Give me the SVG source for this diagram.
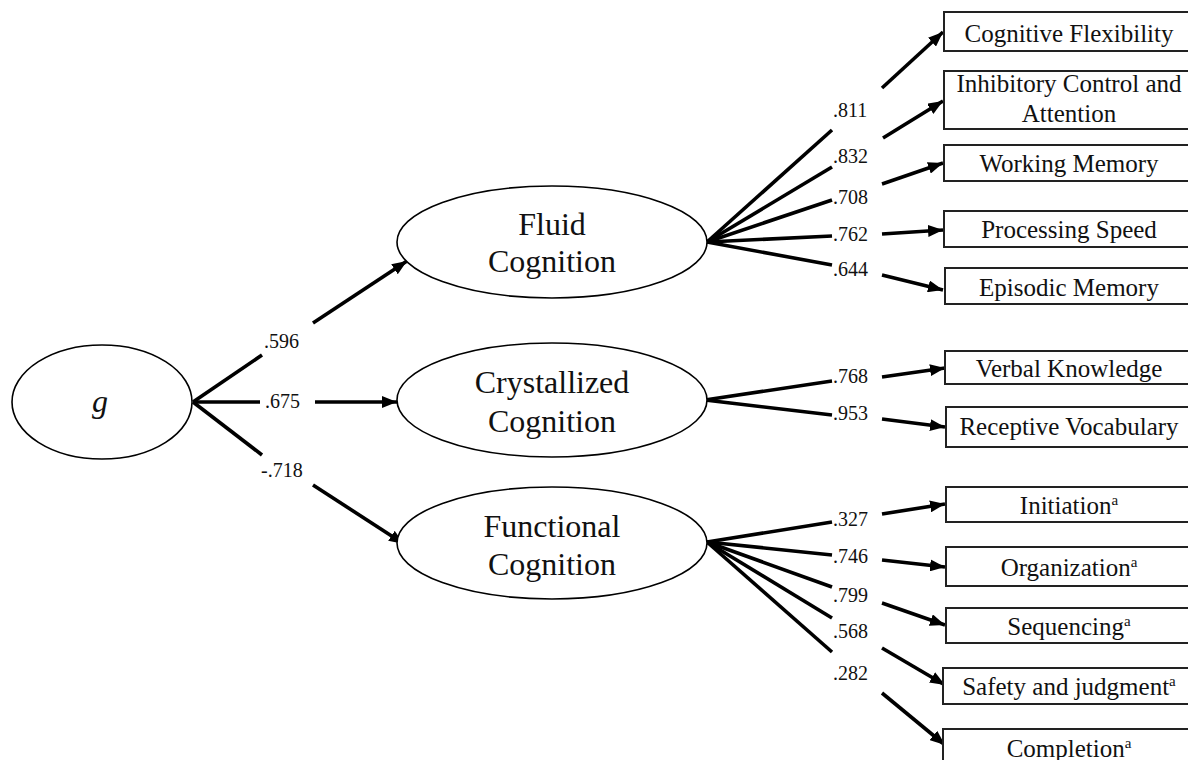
<svg xmlns="http://www.w3.org/2000/svg" width="1188" height="760" viewBox="0 0 1188 760">
<defs>
<marker id="arr" markerUnits="userSpaceOnUse" markerWidth="16" markerHeight="12" refX="15" refY="6" orient="auto">
<path d="M0,0 L15,6 L0,12 z" fill="#000"/>
</marker>
<style>
.ell{fill:#fff;stroke:#000;stroke-width:1.6}
.box{fill:#fff;stroke:#222;stroke-width:2}
.t{font-family:"Liberation Serif","Times New Roman",serif;fill:#111;text-anchor:middle}
.big{font-size:32px}
.bt{font-size:25px}
.lab{font-family:"Liberation Serif","Times New Roman",serif;font-size:20px;fill:#111}
.ln{stroke:#000;stroke-width:3.6;fill:none;stroke-linecap:butt}
.ar{stroke:#000;stroke-width:3.6;fill:none;marker-end:url(#arr)}
.sup{font-size:15px}
</style>
</defs>
<rect width="1188" height="760" fill="#fff"/>

<g id="connectors">
<!-- g to factors -->
<line class="ln" x1="193" y1="402" x2="262" y2="355"/>
<line class="ar" x1="313" y1="323" x2="407" y2="261"/>
<line class="ln" x1="193" y1="402" x2="260" y2="402"/>
<line class="ar" x1="315" y1="402" x2="397" y2="402"/>
<line class="ln" x1="193" y1="402" x2="262" y2="455"/>
<line class="ar" x1="313" y1="485" x2="404" y2="544"/>
<!-- Fluid -->
<line class="ln" x1="707" y1="242" x2="832" y2="130"/>
<line class="ar" x1="882" y1="88" x2="943" y2="32"/>
<line class="ln" x1="707" y1="242" x2="832" y2="167"/>
<line class="ar" x1="883" y1="138" x2="943" y2="101"/>
<line class="ln" x1="707" y1="242" x2="832" y2="200"/>
<line class="ar" x1="882" y1="184" x2="943" y2="163"/>
<line class="ln" x1="707" y1="242" x2="832" y2="236"/>
<line class="ar" x1="882" y1="234" x2="943" y2="230"/>
<line class="ln" x1="707" y1="242" x2="832" y2="265"/>
<line class="ar" x1="882" y1="275" x2="943" y2="290"/>
<!-- Crystallized -->
<line class="ln" x1="705" y1="400" x2="832" y2="381"/>
<line class="ar" x1="882" y1="377" x2="945" y2="368"/>
<line class="ln" x1="705" y1="400" x2="832" y2="415"/>
<line class="ar" x1="882" y1="419" x2="945" y2="427"/>
<!-- Functional -->
<line class="ln" x1="707" y1="542" x2="832" y2="522"/>
<line class="ar" x1="882" y1="514" x2="945" y2="504"/>
<line class="ln" x1="707" y1="542" x2="832" y2="555"/>
<line class="ar" x1="882" y1="560" x2="945" y2="567"/>
<line class="ln" x1="707" y1="542" x2="832" y2="587"/>
<line class="ar" x1="882" y1="603" x2="945" y2="625"/>
<line class="ln" x1="707" y1="542" x2="832" y2="618"/>
<line class="ar" x1="882" y1="648" x2="945" y2="685"/>
<line class="ln" x1="707" y1="542" x2="832" y2="652"/>
<line class="ar" x1="882" y1="693" x2="945" y2="745"/>
</g>

<g id="labels">
<text class="lab" x="264" y="348">.596</text>
<text class="lab" x="265" y="408">.675</text>
<text class="lab" x="261" y="477">-.718</text>
<text class="lab" x="833" y="117">.811</text>
<text class="lab" x="833" y="163">.832</text>
<text class="lab" x="833" y="204">.708</text>
<text class="lab" x="833" y="241">.762</text>
<text class="lab" x="833" y="276">.644</text>
<text class="lab" x="833" y="383">.768</text>
<text class="lab" x="833" y="420">.953</text>
<text class="lab" x="833" y="526">.327</text>
<text class="lab" x="833" y="563">.746</text>
<text class="lab" x="833" y="602">.799</text>
<text class="lab" x="833" y="638">.568</text>
<text class="lab" x="833" y="680">.282</text>
</g>

<g id="node-g">
<ellipse class="ell" cx="102" cy="402" rx="90" ry="57"/>
<text class="t big" x="100" y="412" font-style="italic">g</text>
</g>
<g id="node-fluid">
<ellipse class="ell" cx="552" cy="242" rx="155" ry="56"/>
<text class="t big" x="552" y="235">Fluid</text>
<text class="t big" x="552" y="272">Cognition</text>
</g>
<g id="node-crystallized">
<ellipse class="ell" cx="552" cy="400" rx="155" ry="57"/>
<text class="t big" x="552" y="393">Crystallized</text>
<text class="t big" x="552" y="432">Cognition</text>
</g>
<g id="node-functional">
<ellipse class="ell" cx="552" cy="543" rx="155" ry="56"/>
<text class="t big" x="552" y="537">Functional</text>
<text class="t big" x="552" y="575">Cognition</text>
</g>

<g id="box-cf"><rect class="box" x="944" y="12" width="252" height="39"/><text class="t bt" x="1069" y="42">Cognitive Flexibility</text></g>
<g id="box-ica"><rect class="box" x="944" y="71" width="252" height="58"/><text class="t bt" x="1069" y="92">Inhibitory Control and</text><text class="t bt" x="1069" y="122">Attention</text></g>
<g id="box-wm"><rect class="box" x="944" y="145" width="252" height="36"/><text class="t bt" x="1069" y="172">Working Memory</text></g>
<g id="box-ps"><rect class="box" x="944" y="211" width="252" height="36"/><text class="t bt" x="1069" y="238">Processing Speed</text></g>
<g id="box-em"><rect class="box" x="945" y="268" width="252" height="36"/><text class="t bt" x="1069" y="296">Episodic Memory</text></g>
<g id="box-vk"><rect class="box" x="945" y="351" width="252" height="33"/><text class="t bt" x="1069" y="377">Verbal Knowledge</text></g>
<g id="box-rv"><rect class="box" x="946" y="407" width="252" height="40"/><text class="t bt" x="1069" y="435">Receptive Vocabulary</text></g>
<g id="box-init"><rect class="box" x="946" y="487" width="252" height="35"/><text class="t bt" x="1069" y="514">Initiation<tspan class="sup" dy="-9">a</tspan></text></g>
<g id="box-org"><rect class="box" x="946" y="547" width="252" height="39"/><text class="t bt" x="1069" y="576">Organization<tspan class="sup" dy="-9">a</tspan></text></g>
<g id="box-seq"><rect class="box" x="946" y="608" width="252" height="35"/><text class="t bt" x="1069" y="635">Sequencing<tspan class="sup" dy="-9">a</tspan></text></g>
<g id="box-safe"><rect class="box" x="943" y="668" width="252" height="36"/><text class="t bt" x="1069" y="695">Safety and judgment<tspan class="sup" dy="-9">a</tspan></text></g>
<g id="box-comp"><rect class="box" x="943" y="729" width="252" height="40"/><text class="t bt" x="1069" y="757">Completion<tspan class="sup" dy="-9">a</tspan></text></g>
</svg>
